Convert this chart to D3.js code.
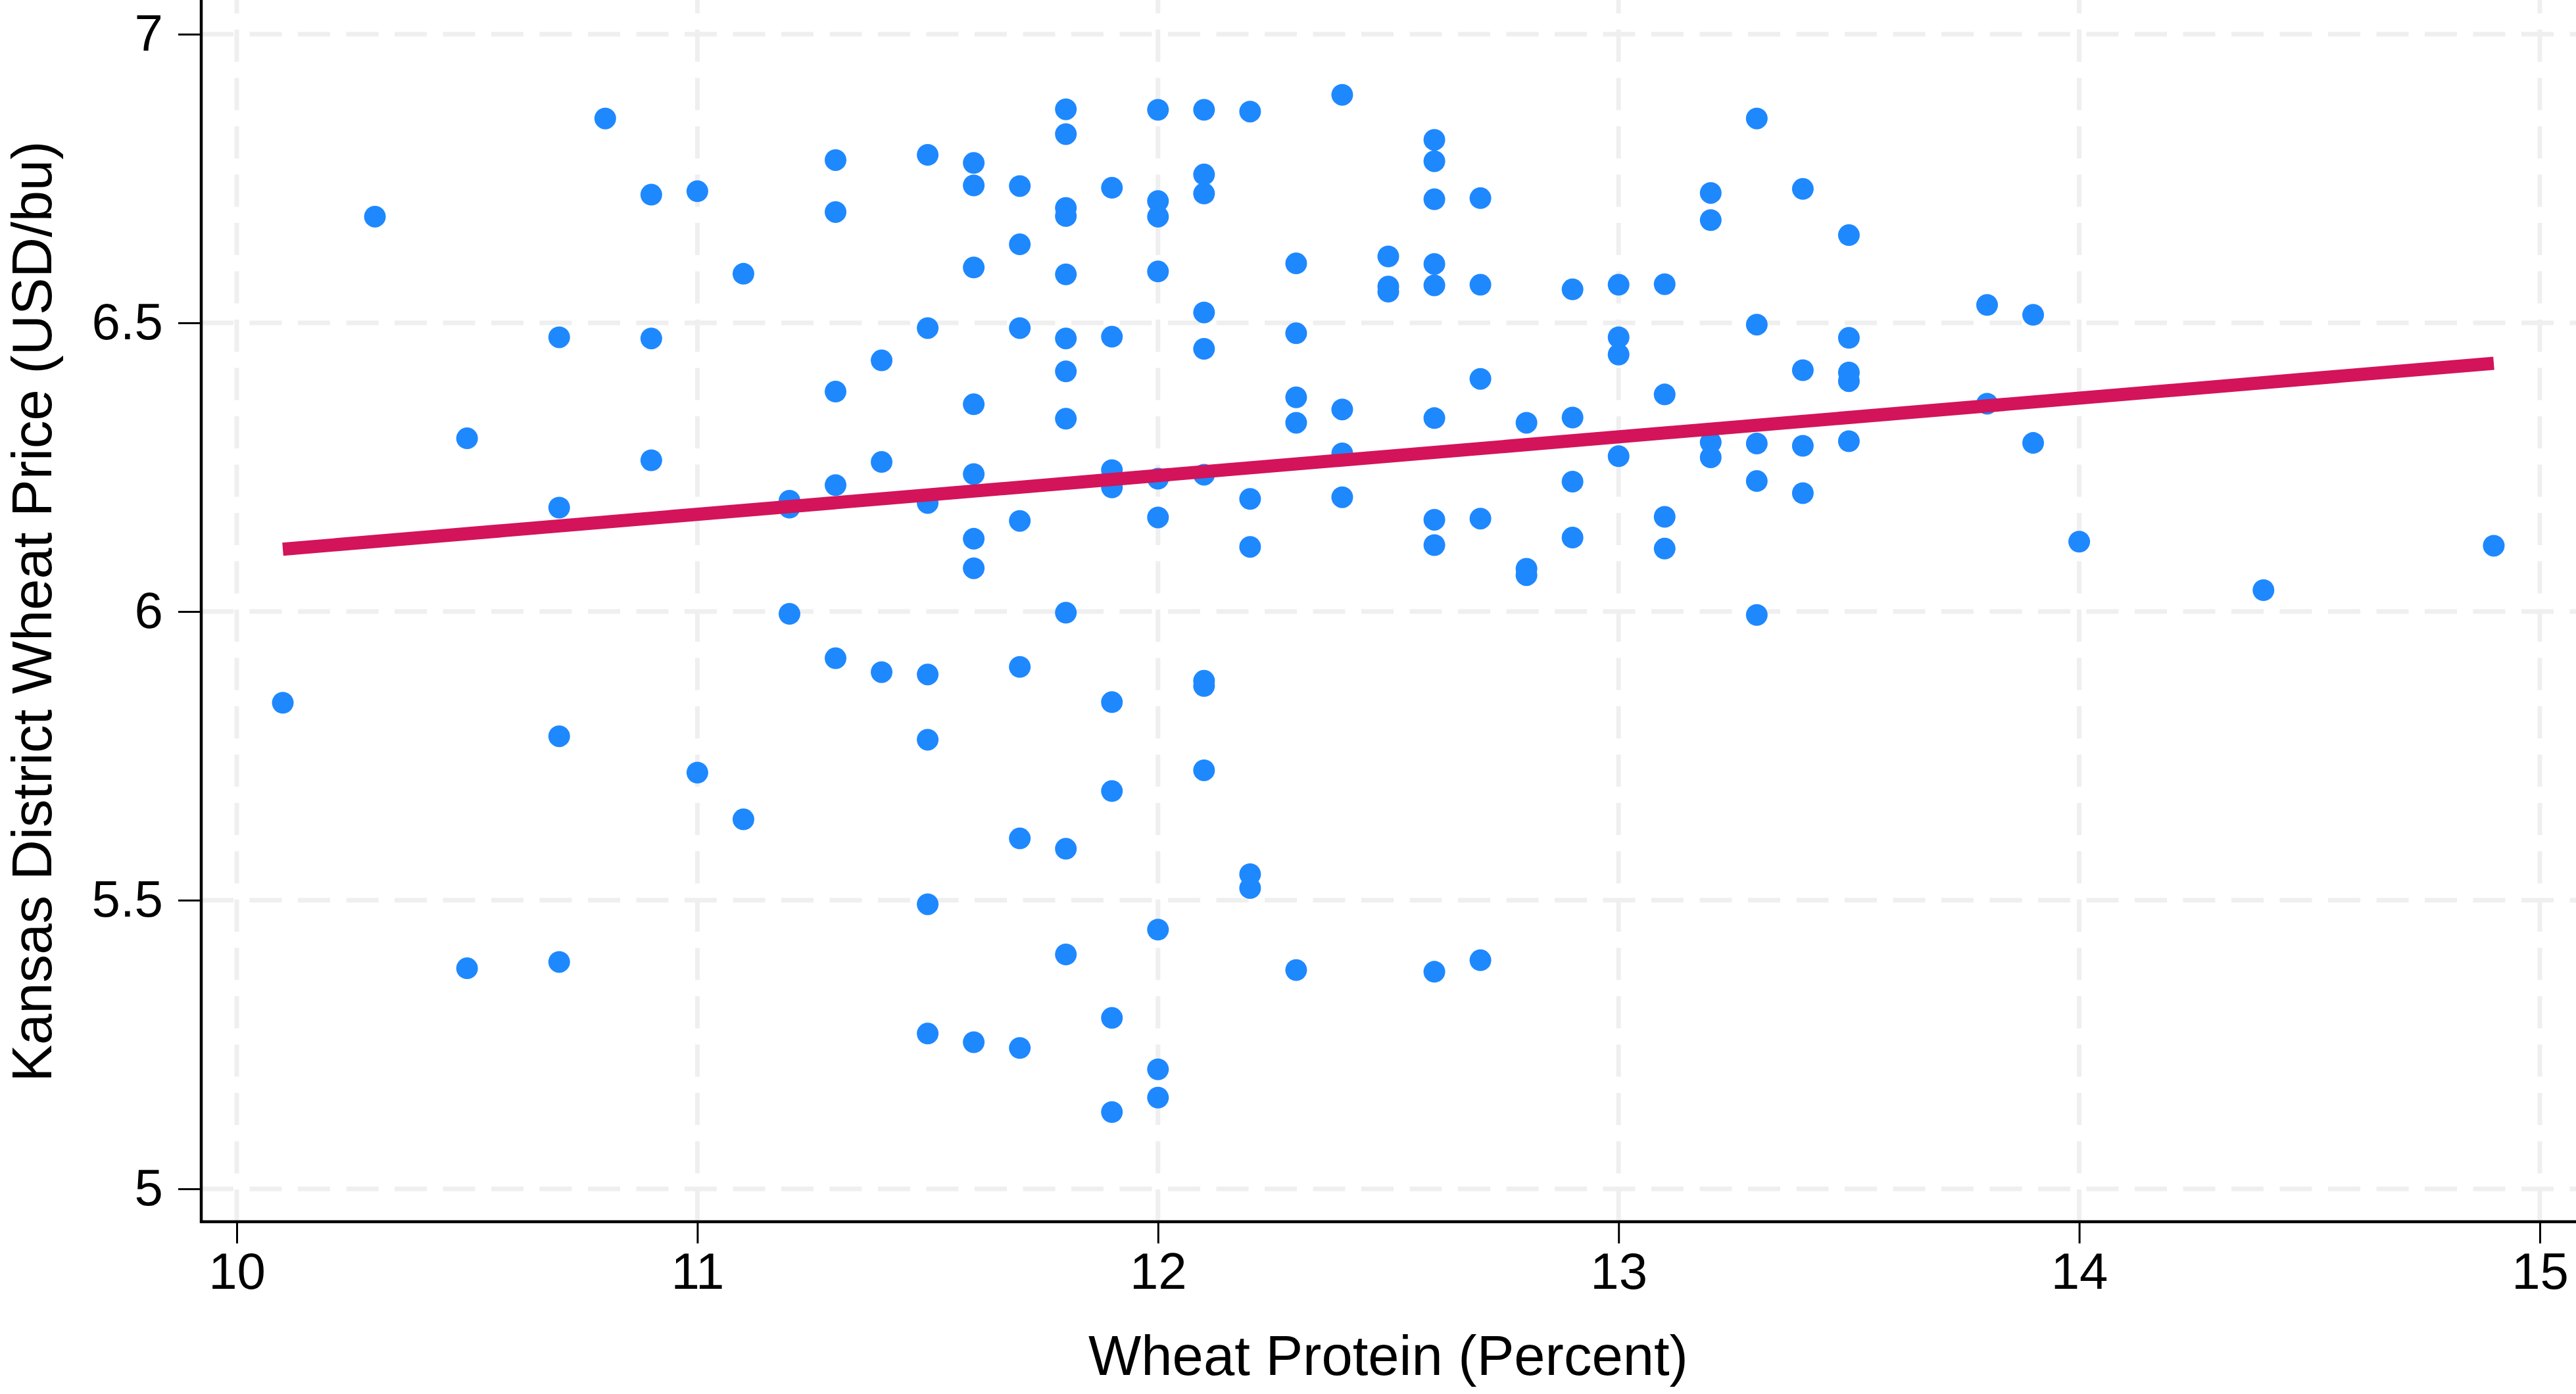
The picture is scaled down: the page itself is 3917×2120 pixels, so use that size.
<!DOCTYPE html>
<html>
<head>
<meta charset="utf-8">
<script src="https://cdn.jsdelivr.net/npm/d3@7"></script>
<style>
html,body{margin:0;padding:0;background:#fff;overflow:hidden}
</style>
</head>
<body>
<svg id="chart" width="3917" height="2120"></svg>
<script>
// ---- data ----
const protein = [
  10.1,
  10.3,
  10.5, 10.5,
  10.7, 10.7, 10.7, 10.7,
  10.8,
  10.9, 10.9, 10.9,
  11.0, 11.0,
  11.1, 11.1,
  11.2, 11.2, 11.2,
  11.3, 11.3, 11.3, 11.3, 11.3,
  11.4, 11.4, 11.4,
  11.5, 11.5, 11.5, 11.5, 11.5, 11.5, 11.5,
  11.6, 11.6, 11.6, 11.6, 11.6, 11.6, 11.6, 11.6,
  11.7, 11.7, 11.7, 11.7, 11.7, 11.7, 11.7,
  11.8, 11.8, 11.8, 11.8, 11.8, 11.8, 11.8, 11.8, 11.8, 11.8, 11.8,
  11.9, 11.9, 11.9, 11.9, 11.9, 11.9, 11.9, 11.9,
  12.0, 12.0, 12.0, 12.0, 12.0, 12.0, 12.0, 12.0, 12.0,
  12.1, 12.1, 12.1, 12.1, 12.1, 12.1, 12.1, 12.1, 12.1,
  12.2, 12.2, 12.2, 12.2, 12.2,
  12.3, 12.3, 12.3, 12.3, 12.3,
  12.4, 12.4, 12.4, 12.4,
  12.5, 12.5, 12.5,
  12.6, 12.6, 12.6, 12.6, 12.6, 12.6, 12.6, 12.6, 12.6,
  12.7, 12.7, 12.7, 12.7, 12.7,
  12.8, 12.8, 12.8,
  12.9, 12.9, 12.9, 12.9,
  13.0, 13.0, 13.0, 13.0,
  13.1, 13.1, 13.1, 13.1,
  13.2, 13.2, 13.2, 13.2,
  13.3, 13.3, 13.3, 13.3, 13.3,
  13.4, 13.4, 13.4, 13.4,
  13.5, 13.5, 13.5, 13.5, 13.5,
  13.8, 13.8,
  13.9, 13.9,
  14.0,
  14.4,
  14.9
];
const price = [
  5.842,
  6.684,
  6.300, 5.382,
  6.475, 6.180, 5.784, 5.393,
  6.854,
  6.722, 6.473, 6.262,
  6.728, 5.721,
  6.585, 5.640,
  6.192, 6.180, 5.996,
  6.782, 6.692, 6.381, 6.219, 5.919,
  6.435, 6.259, 5.895,
  6.791, 6.491, 6.188, 5.891, 5.778, 5.493, 5.269,
  6.777, 6.738, 6.596, 6.359, 6.238, 6.126, 6.075, 5.254,
  6.737, 6.636, 6.491, 6.157, 5.904, 5.607, 5.244,
  6.870, 6.827, 6.699, 6.685, 6.584, 6.473, 6.416, 6.334, 5.998, 5.589, 5.406,
  6.734, 6.476, 6.245, 6.215, 5.843, 5.689, 5.296, 5.133,
  6.869, 6.711, 6.684, 6.589, 6.230, 6.163, 5.449, 5.207, 5.158,
  6.869, 6.757, 6.724, 6.518, 6.455, 6.237, 5.880, 5.871, 5.725,
  6.866, 6.195, 6.112, 5.545, 5.521,
  6.603, 6.482, 6.371, 6.327, 5.379,
  6.895, 6.350, 6.274, 6.198,
  6.615, 6.563, 6.554,
  6.817, 6.780, 6.714, 6.602, 6.565, 6.335, 6.159, 6.115, 5.376,
  6.716, 6.566, 6.403, 6.161, 5.396,
  6.327, 6.074, 6.063,
  6.558, 6.336, 6.225, 6.128,
  6.566, 6.475, 6.445, 6.269,
  6.567, 6.376, 6.164, 6.109,
  6.725, 6.678, 6.293, 6.267,
  6.854, 6.497, 6.291, 6.226, 5.994,
  6.732, 6.418, 6.287, 6.205,
  6.652, 6.474, 6.414, 6.399, 6.295,
  6.531, 6.360,
  6.514, 6.292,
  6.121,
  6.037,
  6.114
];
const fitProtein = [10.1, 14.9];
const fitPrice = [6.108, 6.430];
const xTickValues = [10, 11, 12, 13, 14, 15];
const yTickValues = [5, 5.5, 6, 6.5, 7];
const xTitle = "Wheat Protein (Percent)";
const yTitle = "Kansas District Wheat Price (USD/bu)";

// ---- layout ----
const W = 3917, H = 2120;
const axisLeft = 306, axisRight = 3917, plotTop = 0, axisBottom = 1858;
const FONT = "'Liberation Sans', Arial, Helvetica, sans-serif";

const svg = d3.select("#chart");
svg.append("rect").attr("width", W).attr("height", H).attr("fill", "#fff");

const x = d3.scaleLinear().domain([10, 15]).range([360, 3862]);
const y = d3.scaleLinear().domain([5, 7]).range([1808, 52]);

// grid
const grid = svg.append("g").attr("stroke", "#efefef").attr("stroke-width", 7)
  .attr("stroke-dasharray", "49,24.5").attr("fill", "none");
grid.selectAll("line.h").data(yTickValues).join("line").attr("class", "h")
  .attr("x1", axisLeft).attr("x2", axisRight)
  .attr("y1", d => y(d)).attr("y2", d => y(d));
grid.selectAll("line.v").data(xTickValues).join("line").attr("class", "v")
  .attr("x1", d => x(d)).attr("x2", d => x(d))
  .attr("y1", axisBottom).attr("y2", plotTop);

// points
const pts = protein.map((p, i) => ({p, v: price[i]}));
svg.append("g").selectAll("circle").data(pts).join("circle")
  .attr("cx", d => x(d.p)).attr("cy", d => y(d.v)).attr("r", 16.5)
  .attr("fill", "#1e88ff");

// fitted line
const fit = fitProtein.map((p, i) => [p, fitPrice[i]]);
svg.append("path").datum(fit)
  .attr("d", d3.line().x(d => x(d[0])).y(d => y(d[1])))
  .attr("fill", "none").attr("stroke", "#d3135a").attr("stroke-width", 20)
  .attr("stroke-linecap", "butt");

// axes
const xAxis = svg.append("g").attr("transform", `translate(0,${axisBottom})`)
  .call(d3.axisBottom(x).tickValues(xTickValues).tickFormat(d3.format("d"))
    .tickSize(33).tickPadding(14));
xAxis.select(".domain").remove();
xAxis.selectAll(".tick line").attr("stroke", "#000").attr("stroke-width", 3);
xAxis.selectAll(".tick text").attr("font-family", FONT).attr("font-size", 78).attr("fill", "#000");

const yAxis = svg.append("g").attr("transform", `translate(${axisLeft},0)`)
  .call(d3.axisLeft(y).tickValues(yTickValues).tickFormat(d => String(d))
    .tickSize(35).tickPadding(23));
yAxis.select(".domain").remove();
yAxis.selectAll(".tick line").attr("stroke", "#000").attr("stroke-width", 3);
yAxis.selectAll(".tick text").attr("font-family", FONT).attr("font-size", 78).attr("fill", "#000");

svg.append("line").attr("x1", axisLeft).attr("x2", axisLeft)
  .attr("y1", plotTop).attr("y2", axisBottom + 2)
  .attr("stroke", "#000").attr("stroke-width", 4.5);
svg.append("line").attr("x1", axisLeft - 2).attr("x2", axisRight)
  .attr("y1", axisBottom).attr("y2", axisBottom)
  .attr("stroke", "#000").attr("stroke-width", 4.5);

// titles
svg.append("text").attr("x", (x(10) + x(15)) / 2).attr("y", 2091)
  .attr("text-anchor", "middle").attr("font-family", FONT).attr("font-size", 85)
  .attr("fill", "#000").text(xTitle);
svg.append("text")
  .attr("transform", `translate(78,${(y(5) + y(7)) / 2}) rotate(-90)`)
  .attr("text-anchor", "middle").attr("font-family", FONT).attr("font-size", 85)
  .attr("fill", "#000").text(yTitle);
</script>
</body>
</html>
